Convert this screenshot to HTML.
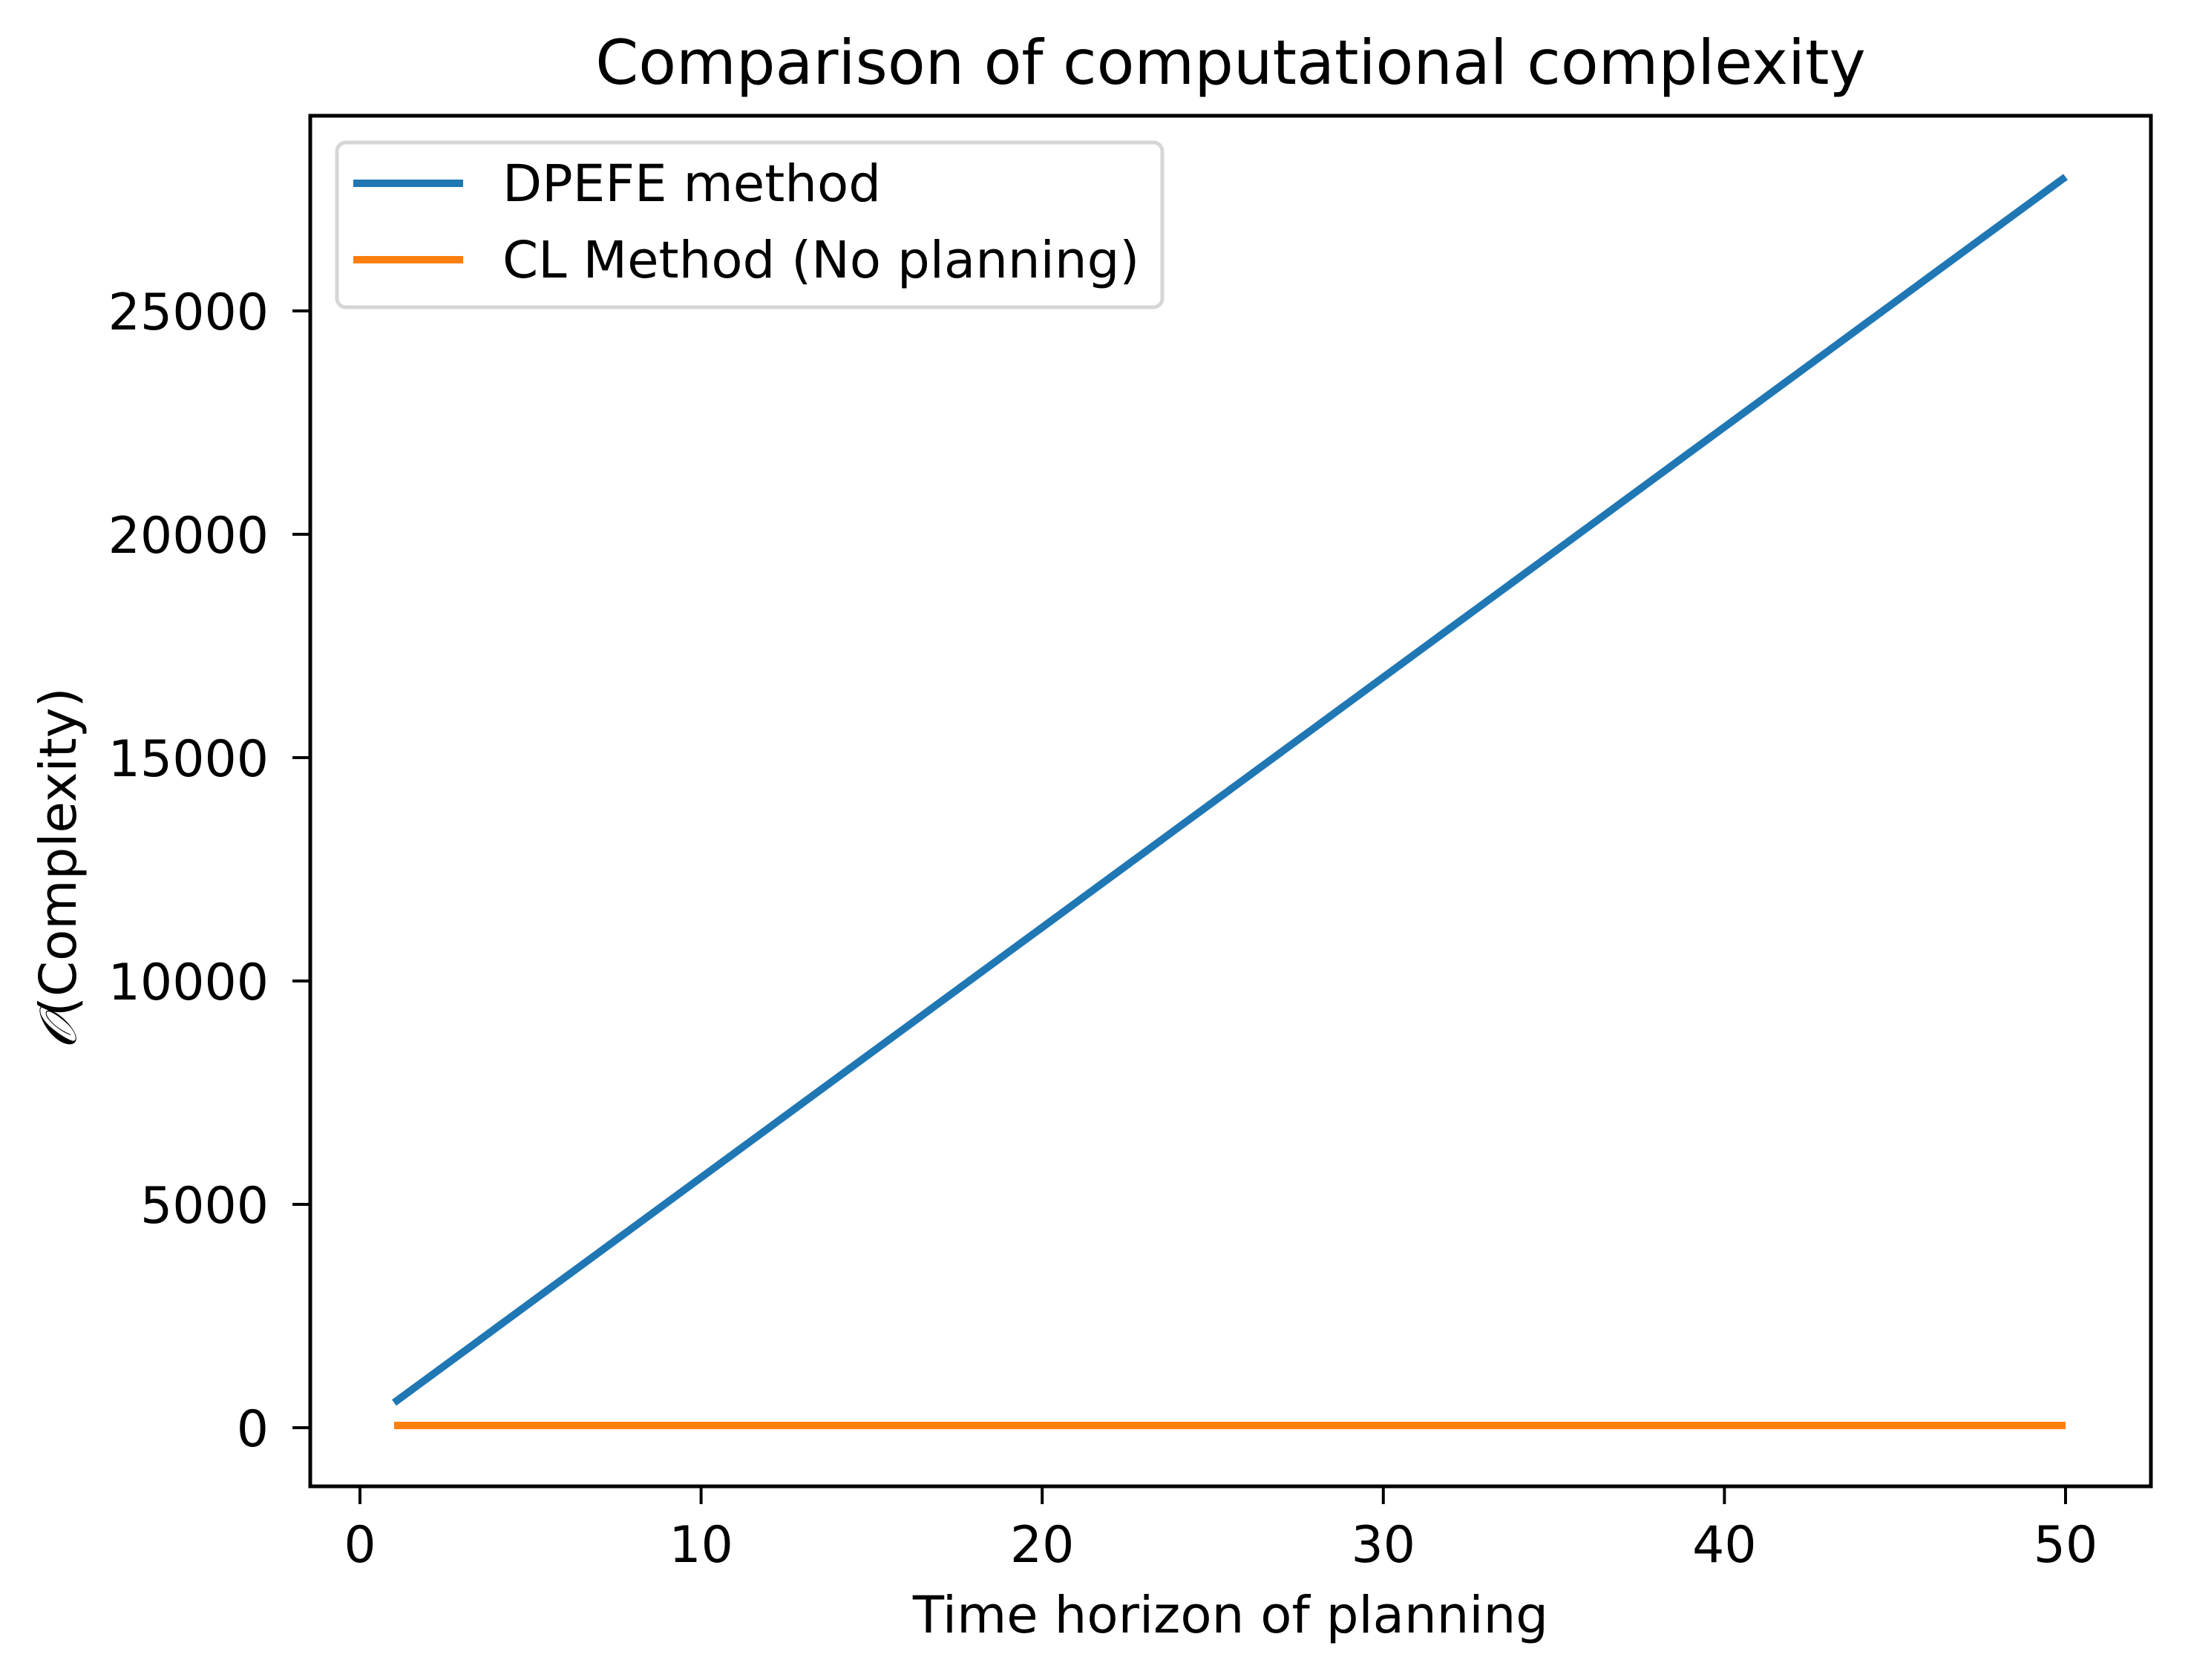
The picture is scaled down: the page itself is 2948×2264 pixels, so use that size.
<!DOCTYPE html>
<html><head><meta charset="utf-8"><style>
html,body{margin:0;padding:0;background:#fff;}
svg{display:block;font-family:"DejaVu Sans","Liberation Sans",sans-serif;}
</style></head><body>
<svg id="chart" width="2948" height="2264" viewBox="0 0 2948 2264" xmlns="http://www.w3.org/2000/svg">
<rect width="2948" height="2264" fill="#fff"/>
<text x="1658" y="113" font-size="83" text-anchor="middle">Comparison of computational complexity</text>
<text x="1658" y="2200" font-size="69" text-anchor="middle">Time horizon of planning</text>
<text transform="translate(102,1170) rotate(-90)" font-size="69" text-anchor="middle"><tspan font-style="italic" font-family="DejaVu Serif,serif">𝒪</tspan>(Complexity)</text>
<g id="ticks"></g>
<g id="series"></g>
<rect x="418" y="156" width="2480" height="1847" fill="none" stroke="#000" stroke-width="5"/>
<g>
<rect x="454" y="192" width="1112" height="222" rx="12" fill="#fff" fill-opacity="0.8" stroke="#d6d6d6" stroke-width="5"/>
<line x1="476" y1="247" x2="624" y2="247" stroke="#1f77b4" stroke-width="10"/>
<text x="677" y="271" font-size="69">DPEFE method</text>
<line x1="476" y1="350" x2="624" y2="350" stroke="#ff7f0e" stroke-width="10"/>
<text x="677" y="374" font-size="69">CL Method (No planning)</text>
</g>
</svg>
<script>
const horizons = [1,2,3,4,5,6,7,8,9,10,11,12,13,14,15,16,17,18,19,20,21,22,23,24,25,26,27,28,29,30,31,32,33,34,35,36,37,38,39,40,41,42,43,44,45,46,47,48,49,50];
const dpefeValues = [560,1120,1680,2240,2800,3360,3920,4480,5040,5600,6160,6720,7280,7840,8400,8960,9520,10080,10640,11200,11760,12320,12880,13440,14000,14560,15120,15680,16240,16800,17360,17920,18480,19040,19600,20160,20720,21280,21840,22400,22960,23520,24080,24640,25200,25760,26320,26880,27440,28000];
const clValues = [50,50,50,50,50,50,50,50,50,50,50,50,50,50,50,50,50,50,50,50,50,50,50,50,50,50,50,50,50,50,50,50,50,50,50,50,50,50,50,50,50,50,50,50,50,50,50,50,50,50];
const xTicks = [0,10,20,30,40,50];
const yTicks = [0,5000,10000,15000,20000,25000];

const NS = "http://www.w3.org/2000/svg";
function xs(v){ return 485 + v * 45.96; }
function ys(v){ return 1924 - v * 0.0602; }
function mk(tag, attrs){ const e = document.createElementNS(NS, tag); for (const k in attrs) e.setAttribute(k, attrs[k]); return e; }

const tg = document.getElementById('ticks');
xTicks.forEach(t => {
  const l = mk('line', {x1: xs(t), x2: xs(t), y1: 2003, y2: 2027, stroke: '#000', 'stroke-width': 4});
  
  
  tg.appendChild(l);
  const tx = mk('text', {x: xs(t), y: 2105, 'font-size': 68, 'text-anchor': 'middle'});
  
  
  tx.textContent = t;
  tg.appendChild(tx);
});
yTicks.forEach(t => {
  const l = mk('line', {x1: 394, x2: 418, y1: ys(t), y2: ys(t), stroke: '#000', 'stroke-width': 4});
  
  
  tg.appendChild(l);
  const tx = mk('text', {x: 362, y: ys(t) + 25, 'font-size': 68, 'text-anchor': 'end'});
  
  
  tx.textContent = t;
  tg.appendChild(tx);
});

const sg = document.getElementById('series');
function pts(vals){ return horizons.map((h, i) => xs(h).toFixed(1) + ',' + ys(vals[i]).toFixed(1)).join(' '); }
const p1 = mk('polyline', {points: pts(dpefeValues), fill: 'none', stroke: '#1f77b4', 'stroke-width': 10});


sg.appendChild(p1);
const p2 = mk('polyline', {points: pts(clValues), fill: 'none', stroke: '#ff7f0e', 'stroke-width': 10});


sg.appendChild(p2);
</script>
</body></html>
